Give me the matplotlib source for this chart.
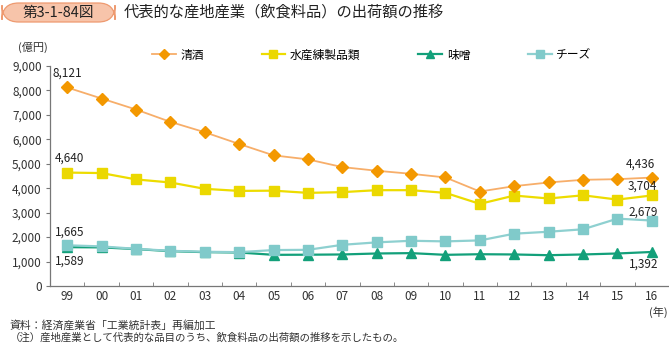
import numpy as np
import matplotlib.pyplot as plt
from matplotlib.patches import FancyBboxPatch

plt.rcParams['font.family'] = ['Noto Sans CJK JP', 'DejaVu Sans']

# data (億円)
years = ["99", "00", "01", "02", "03", "04", "05", "06", "07", "08",
         "09", "10", "11", "12", "13", "14", "15", "16"]
sake = [8121, 7670, 7220, 6715, 6290, 5810, 5345, 5180, 4865, 4715,
        4590, 4440, 3865, 4085, 4235, 4345, 4370, 4436]
nerimono = [4640, 4620, 4360, 4235, 3975, 3890, 3900, 3810, 3840, 3920,
            3920, 3810, 3360, 3700, 3580, 3710, 3535, 3704]
miso = [1589, 1580, 1510, 1425, 1385, 1370, 1275, 1280, 1290, 1330,
        1345, 1275, 1300, 1290, 1260, 1290, 1330, 1392]
cheese = [1665, 1620, 1520, 1440, 1400, 1385, 1470, 1480, 1685, 1785,
          1850, 1825, 1865, 2140, 2220, 2320, 2755, 2679]
names = ["清酒", "水産練製品類", "味噌", "チーズ"]

fig = plt.figure(figsize=(6.69, 3.44), dpi=100)
ax = fig.add_axes([50/669, 1-286/344, 619/669, 220/344])

x = np.arange(len(years))
gray = "#777777"
ax.plot(x, sake, color="#F7AE6A", lw=1.3, marker="D", ms=6.5,
        mfc="#F39800", mec="#F39800", label=names[0], zorder=4)
ax.plot(x, nerimono, color="#EDDC00", lw=1.6, marker="s", ms=6.5,
        mfc="#EBD800", mec="#EBD800", label=names[1], zorder=3)
ax.plot(x, miso, color="#13A07A", lw=1.6, marker="^", ms=6.5,
        mfc="#13A07A", mec="#13A07A", label=names[2], zorder=2)
ax.plot(x, cheese, color="#8ED0D0", lw=1.6, marker="s", ms=6.5,
        mfc="#80CACA", mec="#80CACA", label=names[3], zorder=2)

ax.set_xlim(-0.5, len(years) - 0.5)
ax.set_ylim(0, 9000)
ax.set_yticks(np.arange(0, 9001, 1000))
ax.set_yticklabels([f"{v:,}" for v in range(0, 9001, 1000)])
ax.set_xticks(x)
ax.set_xticklabels(years)
ax.set_xticks(list(x[:-1] + 0.5) + [len(years) - 0.5], minor=True)
ax.tick_params(axis="x", which="major", length=0, pad=3, labelsize=8.5, colors="#333333")
ax.tick_params(axis="x", which="minor", direction="in", length=3, color=gray)
ax.tick_params(axis="y", length=3, color=gray, pad=3, labelsize=8.5, labelcolor="#333333")
for s in ["top", "right"]:
    ax.spines[s].set_visible(False)
for s in ["left", "bottom"]:
    ax.spines[s].set_color(gray)
    ax.spines[s].set_linewidth(0.9)

# value labels
lab = dict(fontsize=8.5, color="#222222", ha="center", va="center", zorder=10,
           textcoords="offset pixels")
n = len(years) - 1
ax.annotate(f"{sake[0]:,}", (0, sake[0]), xytext=(0, 14), **lab)
ax.annotate(f"{nerimono[0]:,}", (0, nerimono[0]), xytext=(2, 14), **lab)
ax.annotate(f"{cheese[0]:,}", (0, cheese[0]), xytext=(2, 13), **lab)
ax.annotate(f"{miso[0]:,}", (0, miso[0]), xytext=(2, -14), **lab)
ax.annotate(f"{sake[n]:,}", (n, sake[n]), xytext=(-11, 13), **lab)
ax.annotate(f"{nerimono[n]:,}", (n, nerimono[n]), xytext=(-9, 9), **lab)
ax.annotate(f"{cheese[n]:,}", (n, cheese[n]), xytext=(-9, 8), **lab)
ax.annotate(f"{miso[n]:,}", (n, miso[n]), xytext=(-8, -12), **lab)

leg = ax.legend(loc="center left", bbox_to_anchor=(152/669, 1-55/344), bbox_transform=fig.transFigure,
                ncol=4, frameon=False, fontsize=8.5, handlelength=2.0, handletextpad=0.4,
                columnspacing=4.9, borderaxespad=0, borderpad=0)
for h in leg.legend_handles:
    h.set_markersize(5.5)

fig.text(33/669, 1-47/344, "(億円)", fontsize=8, color="#333333", va="center", ha="center")
fig.text(668/669, 1-312/344, "(年)", fontsize=8, color="#333333", va="center", ha="right")

# title
box = FancyBboxPatch((2/669, 1-22/344), 113/669, 19/344, boxstyle="round,pad=0,rounding_size=0.025",
                     transform=fig.transFigure, fc="#F7C4AA", ec="#EE9A70", lw=0.9, mutation_aspect=669/344)
fig.patches.append(box)
fig.text(58/669, 1-12.5/344, "第3-1-84図", fontsize=10.5, color="#222222", va="center", ha="center")
fig.text(124/669, 1-12.5/344, "代表的な産地産業（飲食料品）の出荷額の推移", fontsize=11, color="#222222", va="center")

fig.text(10/669, 1-325/344, "資料：経済産業省「工業統計表」再編加工", fontsize=7.8, color="#333333", va="center")
fig.text(10/669, 1-338/344, "（注）産地産業として代表的な品目のうち、飲食料品の出荷額の推移を示したもの。", fontsize=7.5, color="#333333", va="center")

fig.savefig("out.png", dpi=100)
